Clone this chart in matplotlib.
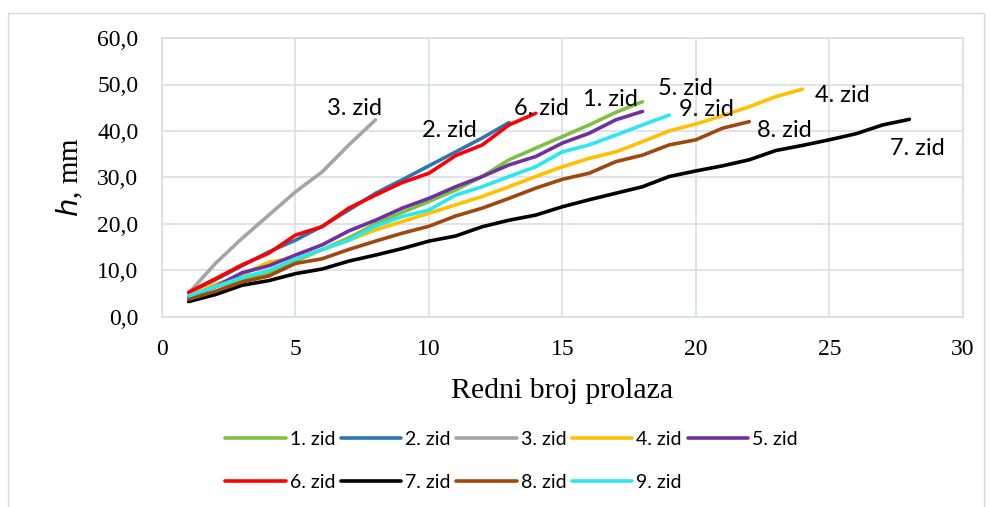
import numpy as np
import matplotlib.pyplot as plt
from matplotlib.patches import Rectangle

# h, mm for each wall; pass number starts at 1
zid1 = [4.5, 6.5, 8.0, 9.5, 12.0, 14.5, 17.0, 20.0, 22.5, 24.8, 27.3, 30.2, 33.8, 36.3, 38.8, 41.3, 44.0, 46.3]
zid2 = [5.2, 8.0, 11.0, 14.0, 16.5, 19.5, 23.0, 26.6, 29.5, 32.5, 35.5, 38.5, 41.8]
zid3 = [5.1, 11.5, 16.9, 21.9, 26.9, 31.2, 37.0, 42.4]
zid4 = [4.5, 7.0, 9.0, 11.8, 12.7, 14.4, 16.5, 18.7, 20.5, 22.3, 24.1, 25.9, 28.0, 30.2, 32.3, 34.1, 35.5, 37.7,
        40.0, 41.5, 43.3, 45.2, 47.4, 49.0]
zid5 = [4.3, 6.5, 9.5, 11.0, 13.3, 15.5, 18.5, 20.8, 23.4, 25.5, 28.0, 30.2, 32.7, 34.5, 37.4, 39.5, 42.4, 44.2]
zid6 = [5.3, 8.2, 11.2, 13.7, 17.6, 19.4, 23.4, 26.2, 28.9, 30.9, 34.7, 37.0, 41.3, 43.8]
zid7 = [3.3, 4.8, 6.8, 7.8, 9.3, 10.3, 12.0, 13.3, 14.7, 16.3, 17.4, 19.4, 20.8, 21.9, 23.7, 25.2, 26.6, 28.0,
        30.2, 31.4, 32.5, 33.8, 35.8, 36.9, 38.1, 39.4, 41.3, 42.5]
zid8 = [3.8, 5.5, 7.5, 8.8, 11.5, 12.5, 14.5, 16.3, 18.0, 19.5, 21.7, 23.4, 25.5, 27.7, 29.6, 30.9, 33.4, 34.8,
        37.0, 38.1, 40.6, 42.0]
zid9 = [4.5, 6.5, 8.5, 10.0, 12.5, 14.5, 16.5, 19.5, 21.6, 23.0, 26.2, 28.0, 30.2, 32.3, 35.5, 37.0, 39.1, 41.3, 43.4]

names = ["1. zid", "2. zid", "3. zid", "4. zid", "5. zid", "6. zid", "7. zid", "8. zid", "9. zid"]
colors = ["#7DC142", "#2E75B6", "#A5A5A5", "#FFC000", "#7030A0", "#FF0000", "#000000", "#9E480E", "#2BE8F0"]
# where the end labels sit (x, h)
label_pos = [(16.8, 46.7), (10.75, 40.2), (7.2, 44.9), (25.5, 47.7), (19.6, 49.2),
             (14.2, 44.9), (28.3, 36.3), (23.3, 40.0), (20.4, 44.7)]

series = [zid1, zid2, zid3, zid4, zid5, zid6, zid7, zid8, zid9]

fig = plt.figure(figsize=(9.91, 5.07), dpi=100)
fig.patches.append(Rectangle((0.008, -0.05), 0.985, 1.025, transform=fig.transFigure,
                             fill=False, edgecolor="#D9D9D9", lw=1))
ax = fig.add_axes([0.1635, 0.375, 0.808, 0.55])

lines = []
for s, n, c in zip(series, names, colors):
    x = np.arange(1, len(s) + 1)
    l, = ax.plot(x, s, color=c, lw=2.6, label=n, solid_capstyle="round", solid_joinstyle="round")
    lines.append(l)

for n, (lx, ly) in zip(names, label_pos):
    ax.text(lx, ly, n, fontsize=17, family="Lato", ha="center", va="center")

ax.set_xlim(0, 30)
ax.set_ylim(0, 60)
ax.set_xticks(np.arange(0, 31, 5))
ax.set_yticks(np.arange(0, 61, 10))
ax.set_yticklabels([("%.1f" % v).replace(".", ",") for v in range(0, 61, 10)])
ax.grid(True, color="#D9DEE8", lw=1.2)
ax.set_axisbelow(True)
for sp in ax.spines.values():
    sp.set_color("#D9DEE8")
    sp.set_linewidth(1.2)
ax.tick_params(length=0, labelsize=17)
ax.tick_params(axis="y", pad=17)
ax.tick_params(axis="x", pad=16)
for t in ax.get_xticklabels() + ax.get_yticklabels():
    t.set_family("Liberation Serif")

ax.set_xlabel("Redni broj prolaza", family="Liberation Serif", fontsize=21.5, labelpad=13)
ax.set_ylabel("$\\mathit{h}$, mm", family="Liberation Serif", fontsize=21, labelpad=9)

# row-major order for a 5-column legend
order = [0, 5, 1, 6, 2, 7, 3, 8, 4]
fig.legend(handles=[lines[i] for i in order], loc="upper center", bbox_to_anchor=(0.516, 0.185), ncol=5,
           frameon=False, prop={"family": "Lato", "size": 14}, handlelength=3.1, handletextpad=0.2,
           columnspacing=0.3, labelspacing=1.35)

fig.savefig("out.png", dpi=100)
